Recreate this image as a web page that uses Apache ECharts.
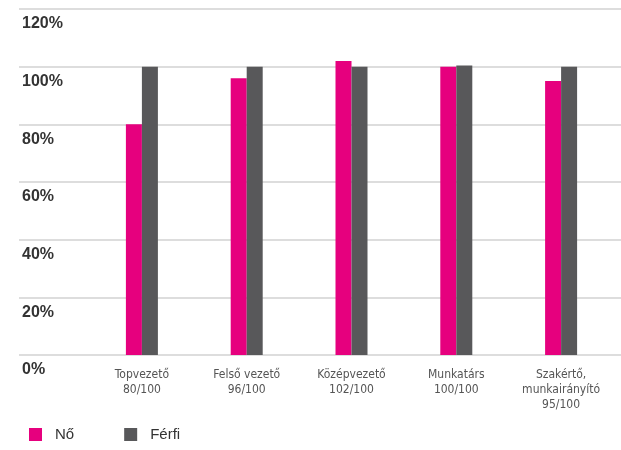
<!DOCTYPE html>
<html><head><meta charset="utf-8">
<script src="https://cdn.jsdelivr.net/npm/echarts@6/dist/echarts.min.js"></script>
<style>html,body{margin:0;padding:0;background:#fff}#c{width:621px;height:450px}</style>
</head><body><div id="c"></div>
<script>
const categories = ['Topvezető\n80/100', 'Felső vezető\n96/100', 'Középvezető\n102/100', 'Munkatárs\n100/100', 'Szakértő,\nmunkairányító\n95/100'];
const noValues = [80, 96, 102, 100, 95];
const ferfiValues = [100, 100, 100, 100.4, 100];
const seriesNames = ['Nő', 'Férfi'];
const yMin = 0, yMax = 120, yStep = 20;

const chart = echarts.init(document.getElementById('c'), null, {renderer: 'canvas'});
chart.setOption({
  animation: false,
  backgroundColor: '#fff',
  color: ['#e6007e', '#58585a'],
  legend: {
    left: 24, top: 422, icon: 'rect', itemWidth: 13, itemHeight: 13, itemGap: 50,
    textStyle: {fontFamily: "'Liberation Sans', Arial, sans-serif", fontSize: 15, color: '#333', padding: [0, 0, 0, 8]},
    data: seriesNames
  },
  grid: [
    {left: 19, right: 0, top: 9, bottom: 95},
    {left: 89.5, right: 7.5, top: 9, bottom: 95}
  ],
  xAxis: [
    {gridIndex: 0, type: 'value', show: false, min: 0, max: 1},
    {gridIndex: 1, type: 'category', data: categories,
     axisLine: {show: false}, axisTick: {show: false},
     axisLabel: {margin: 12, fontFamily: "'Liberation Sans Narrow', 'DejaVu Sans Condensed', sans-serif", fontSize: 12, color: '#555', lineHeight: 15, interval: 0}}
  ],
  yAxis: [
    {gridIndex: 0, type: 'value', min: yMin, max: yMax, interval: yStep,
     axisLine: {show: false}, axisTick: {show: false},
     splitLine: {show: true, lineStyle: {color: '#d2d2d2', width: 1.5}},
     axisLabel: {inside: true, margin: 3, align: 'left', verticalAlign: 'top', padding: [7, 0, 0, 0],
       fontFamily: "'Liberation Sans', Arial, sans-serif", fontWeight: 'bold', fontSize: 16, color: '#333',
       formatter: v => v + '%'}},
    {gridIndex: 1, type: 'value', min: yMin, max: yMax, interval: yStep, show: false}
  ],
  series: [
    {name: seriesNames[0], type: 'bar', xAxisIndex: 1, yAxisIndex: 1, data: noValues, barWidth: 16, barGap: '0%'},
    {name: seriesNames[1], type: 'bar', xAxisIndex: 1, yAxisIndex: 1, data: ferfiValues, barWidth: 16, barGap: '0%'}
  ]
});
</script></body></html>
